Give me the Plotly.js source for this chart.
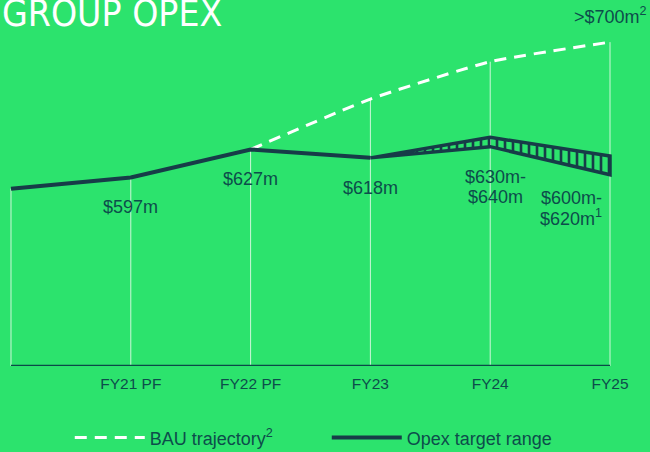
<!DOCTYPE html>
<html><head><meta charset="utf-8">
<script src="https://cdn.plot.ly/plotly-3.0.1.min.js"></script>
<style>html,body{margin:0;padding:0;background:#2ce36d;} #chart{width:650px;height:452px;}</style>
</head><body><div id="chart"></div>
<script>
// ---- data ----
const categories = ["FY20", "FY21 PF", "FY22 PF", "FY23", "FY24", "FY25"];
const tickLabels = ["", "FY21 PF", "FY22 PF", "FY23", "FY24", "FY25"];
const opexActual = [585, 597, 627, 618, null, null];
const targetLow = [null, null, null, 618, 630, 600];
const targetHigh = [null, null, null, 618, 640, 620];
const bauTrajectory = [null, null, 627, 681, 721, 742];
const valueLabels = [[], ["$597m"], ["$627m"], ["$618m"], ["$630m-", "$640m"], ["$600m-", "$620m<sup>1</sup>"]];
const bauLabel = ">$700m<sup>2</sup>";
const seriesNames = ["BAU trajectory<sup>2</sup>", "Opex target range"];
const chartTitle = "GROUP OPEX";

// ---- style ----
const BG = '#2ce36d', DARK = '#173c48', TEXT = '#0d4d4b', DROP = '#cdf7d9';
const yMin = 395, yMax = 755;

// polygon for the target range
const polyX = [], polyY = [];
categories.forEach((c, i) => { if (targetHigh[i] !== null) { polyX.push(c); polyY.push(targetHigh[i]); } });
for (let i = categories.length - 1; i >= 0; i--) { if (targetLow[i] !== null) { polyX.push(categories[i]); polyY.push(targetLow[i]); } }

const traces = [
  {type: 'scatter', mode: 'lines', name: seriesNames[0], x: categories, y: bauTrajectory,
   line: {color: '#ffffff', width: 3, dash: '12px,8px', shape: 'spline', smoothing: 0.5}, hoverinfo: 'skip'},
  {type: 'scatter', mode: 'lines', name: seriesNames[1], x: categories, y: opexActual,
   line: {color: DARK, width: 4}, hoverinfo: 'skip'},
  {type: 'scatter', mode: 'lines', showlegend: false, x: polyX, y: polyY, fill: 'toself',
   fillcolor: 'rgba(0,0,0,0)',
   fillpattern: {shape: '|', size: 8, solidity: 0.33, fgcolor: DARK, bgcolor: 'rgba(0,0,0,0)'},
   line: {color: DARK, width: 3.5}, hoverinfo: 'skip'}
];

// drop lines and baseline
const shapes = [];
categories.forEach((c, i) => {
  const vals = [opexActual[i], targetHigh[i], bauTrajectory[i]].filter(v => v !== null);
  const top = Math.max(...vals);
  shapes.push({type: 'line', layer: 'below', xref: 'x', yref: 'y', x0: c, x1: c, y0: yMin, y1: top,
               line: {color: DROP, width: 1}});
});
shapes.push({type: 'line', layer: 'below', xref: 'x', yref: 'y', x0: categories[0], x1: categories[categories.length - 1],
             y0: yMin, y1: yMin, line: {color: '#0b4a48', width: 2.5}});

const annotations = [];
annotations.push({xref: 'paper', yref: 'paper', x: -5 / 611, y: (366 - 14) / 336, xanchor: 'left', yanchor: 'middle',
  text: chartTitle, showarrow: false, font: {family: 'DejaVu Sans Condensed, DejaVu Sans, sans-serif', size: 37, color: '#ffffff'}});
categories.forEach((c, i) => {
  const lines = valueLabels[i];
  const vals = [opexActual[i], targetLow[i]].filter(v => v !== null);
  if (!lines.length) return;
  const base = Math.min(...vals);
  const isLast = i === categories.length - 1;
  lines.forEach((t, k) => {
    annotations.push({xref: 'x', yref: 'y', x: c, y: base, text: t, showarrow: false,
      xanchor: isLast ? 'right' : 'center', xshift: isLast ? -6 : (lines.length > 1 ? 5 : 0),
      yanchor: 'middle', yshift: (isLast ? -23 : -30) - 20 * k,
      font: {size: 18, color: TEXT}});
  });
});
annotations.push({xref: 'x', yref: 'y', x: categories[categories.length - 1], y: bauTrajectory[bauTrajectory.length - 1],
  text: bauLabel, showarrow: false, xanchor: 'center', yanchor: 'middle', yshift: 27, font: {size: 18, color: TEXT}});

const layout = {
  width: 650, height: 452, paper_bgcolor: BG, plot_bgcolor: BG,
  margin: {l: 5, r: 34, t: 30, b: 86, autoexpand: false},
  font: {family: 'Liberation Sans, Arial, sans-serif', color: TEXT},
  xaxis: {type: 'category', categoryorder: 'array', categoryarray: categories, range: [-0.05, 5.05], automargin: false,
          tickvals: categories, ticktext: tickLabels, ticks: 'outside', ticklen: 3, tickcolor: 'rgba(0,0,0,0)',
          showgrid: false, zeroline: false, showline: false, tickfont: {size: 15.5, color: TEXT}, fixedrange: true},
  yaxis: {range: [yMin, yMax], visible: false, showgrid: false, zeroline: false, fixedrange: true, automargin: false},
  showlegend: true,
  legend: {orientation: 'h', x: 0.106, xanchor: 'left', y: -0.214, yanchor: 'middle',
           font: {size: 18, color: TEXT}, itemwidth: 70, entrywidth: 172, entrywidthmode: 'pixels',
           bgcolor: 'rgba(0,0,0,0)', traceorder: 'normal'},
  shapes: shapes, annotations: annotations
};

Plotly.newPlot('chart', traces, layout, {displayModeBar: false, staticPlot: true});
</script></body></html>
